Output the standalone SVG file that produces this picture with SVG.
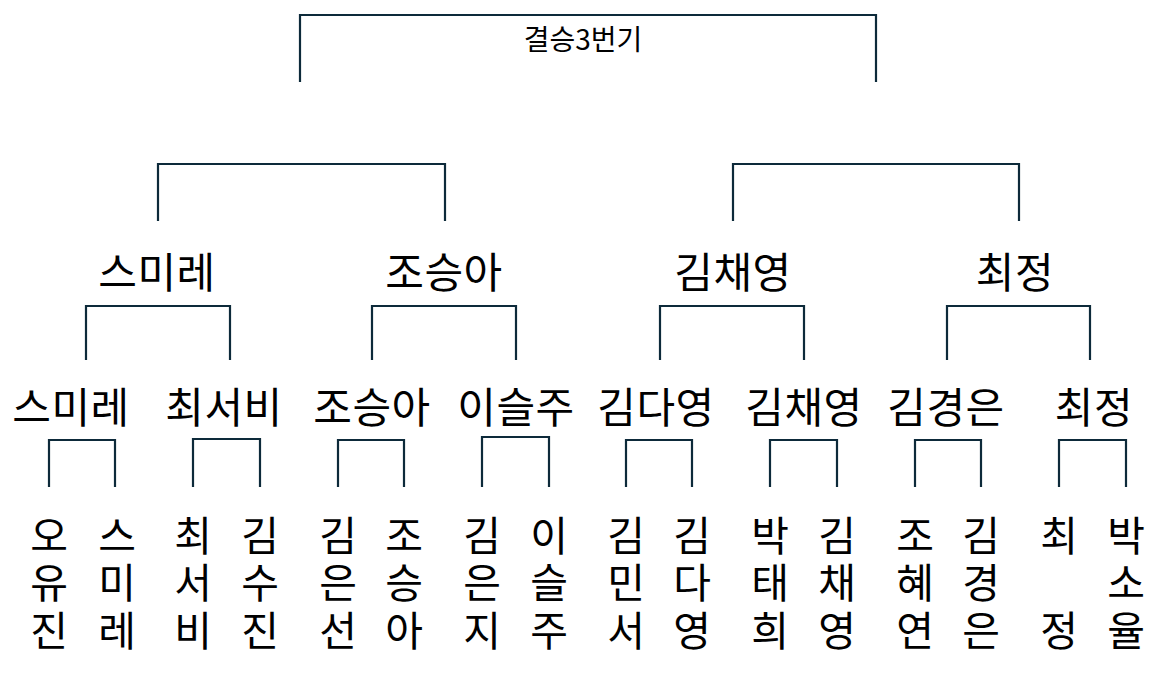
<svg xmlns="http://www.w3.org/2000/svg" width="1161" height="679" viewBox="0 0 1161 679">
<style>
  .br { fill: none; stroke: #0d2a3a; stroke-width: 2.2; }
  text { font-family: "Noto Sans CJK KR", "Noto Sans", sans-serif; fill: #000; text-anchor: middle; dominant-baseline: central; }
  .t0 { font-size: 28px; }
  .t1 { font-size: 42px; letter-spacing: 0.5px; }
  .t2 { font-size: 42px; letter-spacing: 0.5px; }
  .t3 { font-size: 41px; writing-mode: vertical-rl; letter-spacing: 6.5px; }
</style>
<rect width="1161" height="679" fill="#fff"/>
<g id="connectors">
  <path class="br" d="M300,82 V15 H876 V82"/>
  <path class="br" d="M158,221 V164 H445 V221"/>
  <path class="br" d="M733,221 V164 H1019 V221"/>
  <path class="br" d="M86,360 V306 H230 V360"/>
  <path class="br" d="M372,360 V306 H516 V360"/>
  <path class="br" d="M660,360 V306 H804 V360"/>
  <path class="br" d="M947,360 V306 H1090 V360"/>
  <path class="br" d="M49,487 V440 H115 V487"/>
  <path class="br" d="M193,487 V439 H260 V487"/>
  <path class="br" d="M338,487 V440 H404 V487"/>
  <path class="br" d="M482,487 V437 H549 V487"/>
  <path class="br" d="M626,487 V440 H692 V487"/>
  <path class="br" d="M770,487 V440 H837 V487"/>
  <path class="br" d="M915,487 V440 H981 V487"/>
  <path class="br" d="M1059,487 V440 H1126 V487"/>
</g>
<g id="final"><text class="t0" x="583" y="38">결승3번기</text></g>
<g id="semi-1"><text class="t1" x="157" y="269">스미레</text></g>
<g id="semi-2"><text class="t1" x="444" y="269">조승아</text></g>
<g id="semi-3"><text class="t1" x="733" y="269">김채영</text></g>
<g id="semi-4"><text class="t1" x="1015" y="269">최정</text></g>
<g id="qf-1"><text class="t2" x="71" y="404">스미레</text></g>
<g id="qf-2"><text class="t2" x="224" y="404">최서비</text></g>
<g id="qf-3"><text class="t2" x="372" y="404">조승아</text></g>
<g id="qf-4"><text class="t2" x="516" y="404">이슬주</text></g>
<g id="qf-5"><text class="t2" x="656" y="404">김다영</text></g>
<g id="qf-6"><text class="t2" x="804" y="404">김채영</text></g>
<g id="qf-7"><text class="t2" x="946" y="404">김경은</text></g>
<g id="qf-8"><text class="t2" x="1094" y="404">최정</text></g>
<g id="p-1"><text class="t3" x="49" y="586">오유진</text></g>
<g id="p-2"><text class="t3" x="117" y="586">스미레</text></g>
<g id="p-3"><text class="t3" x="193" y="586">최서비</text></g>
<g id="p-4"><text class="t3" x="260" y="586">김수진</text></g>
<g id="p-5"><text class="t3" x="338" y="586">김은선</text></g>
<g id="p-6"><text class="t3" x="404" y="586">조승아</text></g>
<g id="p-7"><text class="t3" x="482" y="586">김은지</text></g>
<g id="p-8"><text class="t3" x="549" y="586">이슬주</text></g>
<g id="p-9"><text class="t3" x="626" y="586">김민서</text></g>
<g id="p-10"><text class="t3" x="692" y="586">김다영</text></g>
<g id="p-11"><text class="t3" x="770" y="586">박태희</text></g>
<g id="p-12"><text class="t3" x="837" y="586">김채영</text></g>
<g id="p-13"><text class="t3" x="915" y="586">조혜연</text></g>
<g id="p-14"><text class="t3" x="981" y="586">김경은</text></g>
<g id="p-15"><text class="t3" x="1059" y="586">최　정</text></g>
<g id="p-16"><text class="t3" x="1126" y="586">박소율</text></g>
</svg>
